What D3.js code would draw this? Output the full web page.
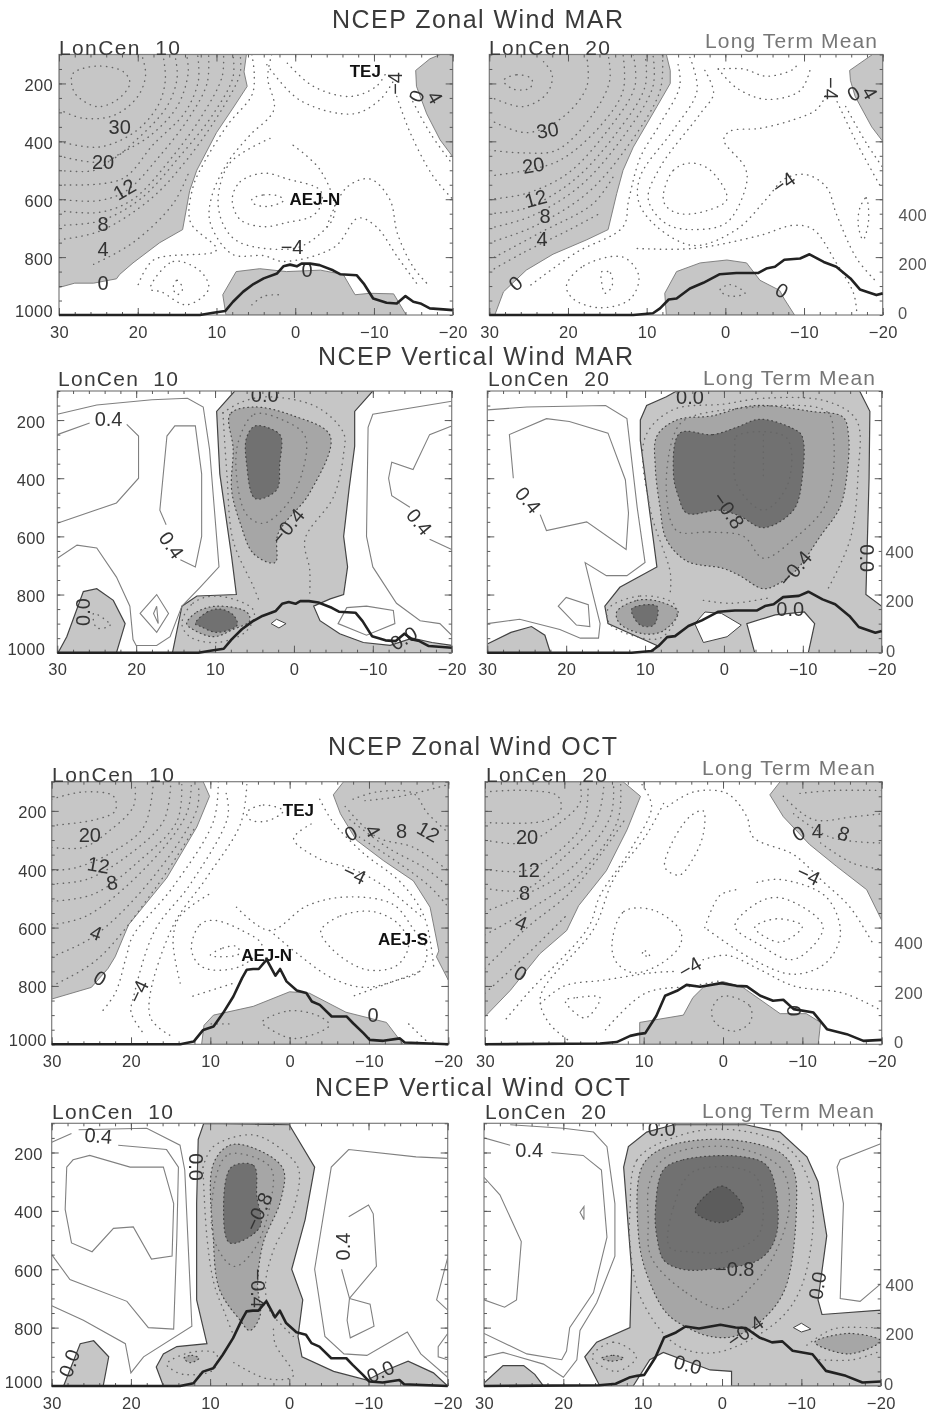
<!DOCTYPE html>
<html>
<head>
<meta charset="utf-8">
<script src="https://cdn.jsdelivr.net/npm/d3@7"></script>
<style>
  html, body { margin: 0; padding: 0; background: #fff; }
  svg { display: block; filter: blur(0.45px); }
  text { font-family: "Liberation Sans", Arial, sans-serif; white-space: pre; }
</style>
</head>
<body>
<svg id="chart" width="929" height="1416"></svg>
<script>
// all contours are [latitude, pressure hPa], terrain is [latitude, height m]
const xTicks = [30, 20, 10, 0, -10, -20];
const xTickLabels = ["30", "20", "10", "0", "\u221210", "\u221220"];
const yTicks = [200, 400, 600, 800, 1000];
const heightTicks = [0, 200, 400];

const terrainMar10 = [[30,0],[12.1,0],[10.4,9],[8.9,16],[7.9,54],[6.6,95],[5.3,126],[4,149],[2.3,169],[1.5,198],[.66,205],[-.2,198],[-.8,209],[-1.9,209],[-3.1,203],[-4.8,182],[-5.7,166],[-7.8,162],[-8.7,128],[-9.9,67],[-11.6,50],[-12.9,47],[-14,77],[-15,54],[-15.9,47],[-17.1,27],[-18.8,23],[-20,20]];
const terrainMar20 = [[30,0],[11.7,0],[9.2,7],[8.3,27],[7.2,63],[6.2,67],[4.5,108],[2.8,131],[.7,166],[-1.4,171],[-4.2,171],[-5.2,189],[-6.3,196],[-7.5,225],[-9.5,230],[-10.7,247],[-12.5,216],[-14.1,196],[-15.9,149],[-17.1,104],[-19.2,81],[-20,88]];
const terrainOct10 = [[30,0],[13.8,0],[12.1,11],[10.9,58],[9.6,72],[8.4,126],[7.1,193],[6,267],[5.4,301],[4.6,304],[3.9,304],[2.9,342],[1.8,277],[1.2,304],[.4,254],[-.9,217],[-2.1,207],[-2.8,173],[-3.8,159],[-5.3,112],[-7.2,112],[-8,85],[-9.3,45],[-10.1,18],[-11.8,14],[-13.9,24],[-14.5,7],[-20,0]];
const terrainOct20 = [[30,0],[15.5,3],[13.4,9],[11.7,34],[10.7,41],[9.8,45],[8.4,115],[7.3,196],[5.8,216],[4.6,240],[2.9,232],[.2,247],[-1.7,236],[-3,234],[-4.7,196],[-6.3,176],[-7.6,180],[-8.9,142],[-11.4,128],[-13.1,61],[-15.6,41],[-17.7,14],[-20,18]];

// zonal wind MAR, lon 10
const zm10Light = [
  [[30,100],[6.2,100],[6.5,160],[6.1,210],[7.9,285],[10,370],[12.5,500],[13.4,570],[14.3,705],[17.2,750],[20.6,820],[22.3,860],[22.7,875],[25.6,890],[28,890],[30,905]],
  [[-18.4,100],[-20,100],[-20,453],[-18.4,395],[-16.7,305],[-15.4,210],[-15.3,155],[-17.1,115]],
  [[7.5,850],[4.5,840],[1.1,850],[-3.2,845],[-6.1,860],[-7.6,930],[-9.5,925],[-12.5,927],[-14.1,1000],[8.8,1000],[9.2,930]]
];
const zm10Dots = [
  [[28.4,200],[28.2,165],[25.2,140],[21.8,160],[21,200],[22.7,258],[25.2,280],[27.8,240],[28.4,200]],
  [[30,290],[27,320],[23,310],[20,245],[19,170],[19.5,100]],
  [[30,400],[25,420],[20.5,370],[17.5,280],[16.5,190],[16.8,100]],
  [[30,450],[24,470],[20,390],[16.3,280],[15,180],[15.3,100]],
  [[30,500],[25.5,500],[22.7,450],[18.4,380],[15,280],[13.6,165],[13.8,100]],
  [[30,550],[22,530],[18,410],[14,300],[12.3,190],[12.4,100]],
  [[30,600],[25,605],[21.4,570],[17.2,450],[13.4,315],[11.2,200],[11,100]],
  [[30,640],[24.8,645],[20.6,600],[15.5,450],[11.7,305],[9.3,178],[9.1,100]],
  [[30,690],[24.8,675],[19.7,600],[14.6,450],[10.4,305],[7.9,178],[7.9,100]],
  [[30,740],[24.8,710],[18.4,600],[13.8,465],[9.1,280],[7,165],[7,100]],
  [[25.6,825],[20.6,750],[15.5,615],[13.4,500]],
  [[5.5,600],[4,585],[2,590],[1.5,605],[3.6,625],[5.3,615],[5.5,600]],
  [[8,600],[7,540],[4,510],[1,530],[-3.2,570],[-3.2,625],[-2,660],[1,680],[4,695],[7,670],[8,600]],
  [[3.2,390],[8.3,475],[9.8,600],[9,695],[7,750],[.2,770],[-2.7,730],[-5,650],[-3.2,500],[.7,405]],
  [[5.5,100],[5.2,170],[5.5,240],[8.5,340],[11.5,470],[13,560],[13.3,680],[10,775],[18,810],[20,900]],
  [[3,100],[3.5,180],[2.7,290],[5.8,380],[8.5,470],[10.6,590],[10.8,680],[8,790],[4,795],[1.5,815],[-5,765],[-8,665],[-10.3,695],[-13,800],[-15.4,890]],
  [[-4,695],[-6.5,560],[-9.5,530],[-12,600],[-13,720],[-15,835],[-16.7,890]],
  [[15.5,905],[15,880],[14.3,910],[15,930],[15.5,905]],
  [[18.4,910],[15.5,815],[12,850],[11,910],[13.8,965],[17,920],[18.4,910]],
  [[5.5,965],[4,935],[2,930]],
  [[1,130],[-2.3,210],[-7,245],[-10.3,210],[-11.6,160]],
  [[3.6,135],[-.6,258],[-7.4,305],[-10.8,255],[-12.5,190]],
  [[-12.9,245],[-14.6,370],[-17.5,520],[-20,600]],
  [[-14.6,245],[-17.1,370],[-20,480]]
];
const zm10Labels = [["30",22.3,350,0],["20",24.4,470,0],["12",21.7,565,-30],["8",24.4,685,0],["4",24.4,773,0],["0",24.4,888,0],["\u22124",.4,765,0],["\u22124",-12.7,200,-90],["0",-15.4,244,-70],["4",-17.8,248,60],["0",-1.5,843,0]];
const zm10Bold = [["TEJ",-8.9,155],["AEJ-N",-2.5,600]];

// zonal wind MAR, lon 20
const zm20Light = [
  [[30,100],[7.5,100],[7,155],[7,200],[8.7,280],[11.7,420],[13,500],[13.8,580],[14.9,705],[17.6,740],[21.9,790],[25.3,845],[28.2,920],[29.3,1000],[30,1000]],
  [[-15.8,155],[-18.7,100],[-20,100],[-20,400],[-18.6,350],[-16.5,245],[-15.9,190]],
  [[7.5,1000],[7.7,925],[6.2,850],[3.2,820],[-.2,810],[-2.7,820],[-4.4,880],[-6.9,915],[-7.5,945],[-8.8,1000]]
];
const zm20Dots = [
  [[28.2,190],[26.5,170],[24.6,185],[24.8,215],[26.9,220],[28.2,190]],
  [[30,245],[25.7,280],[22.7,235],[22,170],[23.1,125]],
  [[30,325],[25.2,370],[20.6,315],[17.6,210],[17.6,110]],
  [[30,430],[25.7,440],[21.4,430],[16.8,305],[14.7,190],[14.9,100]],
  [[30,520],[25.3,500],[21,465],[16,350],[13,225],[13,100]],
  [[30,600],[25.3,580],[20,510],[14.9,360],[11.5,210],[11.7,100]],
  [[30,650],[25.3,630],[19.3,535],[13.8,370],[10.2,210],[10.2,100]],
  [[30,700],[24.8,660],[18.5,555],[13,385],[9.2,210],[9.2,100]],
  [[30,750],[24.4,695],[17.6,580],[12.5,420],[8.3,225],[8,100]],
  [[30,810],[23.5,715],[16.8,615],[14.2,520]],
  [[30,850],[25.7,785],[19.8,705],[16,650]],
  [[6,135],[5.8,210],[8.3,340],[10.8,455],[12.3,605],[13,695],[19,785],[24.9,900]],
  [[7.9,590],[6.6,500],[4.4,475],[1.9,500],[-.2,600],[2.4,640],[5.8,650],[7.5,625],[7.9,590]],
  [[2.6,155],[1.5,235],[3.2,305],[8.3,490],[9.8,600],[7.5,685],[4,705],[-.2,680],[-2.7,545],[-2.5,490],[.2,395],[-.6,365],[-4.4,355],[-8.7,325],[-11.6,290],[-12.9,235]],
  [[4.5,110],[3.6,225],[6.6,360],[10.8,520],[11,610],[8.7,695],[4,760],[-1.4,705],[-5.2,600],[-7.5,530],[-10.3,515],[-12.9,560],[-14.1,650],[-16.7,805],[-19.2,885]],
  [[11.2,770],[4,770],[-4.4,725],[-8.7,690],[-11.2,705],[-14.1,820],[-16.3,925],[-16.7,990]],
  [[-17.1,630],[-17.9,595],[-18.2,675],[-17.5,740],[-16.9,690],[-17.1,630]],
  [[.9,150],[-2.3,150],[-5.2,175],[-8.7,150],[-9.2,130]],
  [[.9,150],[-1.4,215],[-5.2,255],[-9.5,225],[-10.8,150]],
  [[-13.9,245],[-16.7,405],[-19.7,555]],
  [[-15.3,280],[-17.9,405],[-20,490]],
  [[15.7,850],[14.6,855],[14.4,900],[15.3,925],[15.7,890],[15.7,850]],
  [[20.2,900],[18,830],[13,800],[11,865],[12.1,945],[15.9,975],[19.3,945],[20.2,900]],
  [[.7,915],[-.6,895],[-2.5,925],[-.6,935],[.7,915]]
];
const zm20Labels = [["30",22.6,361,-10],["20",24.4,482,-10],["12",24.1,597,-15],["8",22.9,658,0],["4",23.3,738,0],["0",26.7,890,-40],["\u22124",-7.4,543,-35],["\u22124",-13.5,217,90],["0",-16.3,235,-30],["4",-18.4,232,60],["0",-7.2,915,30]];

// vertical wind MAR, lon 10
const vm10Light = [
  [[7.5,100],[-10,100],[-7.7,170],[-7.7,290],[-7,435],[-6.3,600],[-6.8,705],[-6.3,800],[-4.6,815],[-2.5,840],[-3.3,890],[-5.8,935],[-8.8,965],[-12.2,975],[-15,950],[-17.5,965],[-20,975],[-20,1000],[15.4,1000],[14.2,840],[12.3,805],[7.3,800],[7.9,670],[9.4,385],[9.8,170]],
  [[29.9,1000],[28.8,945],[26.7,790],[25,780],[22.9,820],[21.4,900],[22.5,1000]]
];
const vm10Mid = [
  [[5.2,155],[8.1,180],[7.7,300],[7.9,440],[6.8,555],[5.1,660],[2.4,690],[2,590],[-2,450],[-4.6,255],[.1,185]],
  [[13.6,900],[12.3,860],[9.8,840],[6,860],[5.6,890],[7.7,920],[10.2,945],[12.8,920]]
];
const vm10Dark = [
  [[4.9,220],[2.2,240],[1.6,260],[1.8,350],[2.2,440],[4.9,470],[6,350],[6,260]],
  [[12.5,900],[11,860],[9.4,850],[7.7,870],[7.2,905],[9.8,930],[11.8,910]]
];
const vm10Holes = [[[2.9,900],[2.2,885],[1,900],[1.9,915]]];
const vm10Dots = [
  [[9,175],[6.8,140],[3.5,120],[-2.9,155],[-6.3,245],[-6.3,315],[-5,465],[-1.4,610],[-2,715],[-2,800]],
  [[9,175],[8.5,385],[7.7,615],[5.1,775],[4.3,830]],
  [[7,270],[5,180],[1.4,200],[-1.4,255],[-1,385],[.9,490],[3.9,555],[6,525],[7.3,385],[7,270]],
  [[14.2,900],[12.8,830],[9.8,805],[5.1,855],[6,925],[9.8,965],[13.2,945],[14.2,900]],
  [[25.4,865],[23.3,905],[25,915],[25.4,865]]
];
const vm10Solid = [
  [[30,180],[25,148],[18,130],[13.5,125],[11.5,155],[10.7,300],[9.5,705],[11.9,775],[14.2,840]],
  [[30,250],[25.9,210]],
  [[21.2,215],[19.7,255],[19.7,400],[22.5,485],[30,555]],
  [[14.4,680],[12.5,705],[11.7,600],[11.7,385],[12.5,220],[15.1,220],[16.1,255],[17,510],[16.2,560]],
  [[30,675],[27.5,630],[25,640],[22.5,740],[20.8,840],[20.4,955],[20,975],[17.4,975],[15.7,945],[14.2,840]],
  [[19.5,865],[17.4,800],[15.9,865],[17.4,930],[19.5,865]],
  [[17.8,865],[17.4,840],[17.2,900],[17.8,865]],
  [[-20,135],[-10,180],[-9.4,225],[-9.2,600],[-10,705],[-13,830],[-16,890],[-18.5,900],[-20,940]],
  [[-20,220],[-17.2,250],[-15.1,370],[-12.4,345],[-12,400],[-12.4,460],[-14.7,500]],
  [[-17.2,610],[-20,645]],
  [[-5.6,900],[-6.7,845],[-9.2,840],[-12.6,855],[-12.8,900],[-9.2,940],[-5.6,900]]
];
const vm10Labels = [["0.4",23.5,195,0],["0.4",15.5,630,55],["\u22120.4",.8,565,-50],["0.4",-15.9,550,50],["0.0",26.8,860,-90],["0.0",3.7,113,0],["0.0",-13.9,950,-30]];

// vertical wind MAR, lon 20
const vm20Light = [
  [[10.6,200],[9.8,150],[7.3,120],[6,100],[-17.2,100],[-18.5,170],[-18.4,400],[-18,800],[-20,840],[-20,1000],[-10.7,1000],[-11.5,900],[-10.2,860],[-6.5,870],[-2.9,900],[-3.9,1000],[9.1,1000],[8.5,975],[14.7,900],[15.1,840],[13.2,775],[8.5,705],[10.6,270]],
  [[30,970],[27,930],[24.4,910],[22.7,940],[22,1000],[30,1000]]
];
const vm20Mid = [
  [[8.5,255],[6,200],[1.4,185],[-2.5,155],[-5.4,150],[-11,170],[-15.1,190],[-15.8,255],[-15.6,385],[-14.7,500],[-12.2,600],[-9.2,715],[-7.1,760],[-5,780],[-2,735],[.1,710],[4.7,685],[7.3,610],[8.1,500],[8.7,360]],
  [[13.6,860],[11,820],[8.1,825],[5.8,860],[7.7,925],[10.2,935],[13.2,900]]
];
const vm20Dark = [
  [[5.6,245],[1.4,250],[-1.6,225],[-4.6,197],[-8.8,230],[-9.9,255],[-9.9,405],[-8.8,510],[-5,570],[-2,530],[.5,510],[4.7,520],[5.8,460],[6.4,385]],
  [[11.7,850],[8.5,840],[8.9,905],[10.6,905]]
];
const vm20Holes = [[[3.7,900],[2.4,860],[.3,865],[-2.2,905],[-.4,945],[2.6,965]]];
const vm20Dots = [
  [[-1.4,300],[-1.6,255],[-7.9,260],[-8.1,420],[-5,510],[-1.6,420],[-1.4,300]],
  [[-5,250],[-5,395]],
  [[6.8,790],[6.8,725],[9.4,500],[10,260],[6.5,165],[0,145],[-5,125],[-13,135],[-16.8,200],[-17,385],[-16,610],[-13,790]],
  [[6,580],[1.8,585],[-2.5,600],[-5,675],[-8.8,610],[-13,485],[-13.9,255],[-13,170],[-2,160],[5,200],[6.4,255],[7.3,445],[6,580]],
  [[14.7,850],[10.6,805],[6.4,830],[6,875],[8.1,950],[12.3,935],[14.5,900],[14.7,850]],
  [[2.6,820],[-1,830],[-6,810]]
];
const vm20Solid = [
  [[30,165],[25,155],[15,150],[12.3,195],[11,500],[10,690],[12.3,735],[14.9,735],[17.6,690],[16.7,790],[15.7,900],[15.9,950],[18.2,950],[20.8,920],[25.9,885],[30,900]],
  [[23.3,525],[22.5,580],[17.4,550],[12.4,645],[12.1,520],[12.5,405],[14.7,245],[19.6,205],[22.5,195],[27.2,250],[26.7,400]],
  [[21,840],[20,810],[17.2,835],[17,910],[18.7,905],[21,840]]
];
const vm20Labels = [["0.4",24.8,475,50],["\u22120.8",-.6,510,55],["\u22120.4",-9,710,-50],["0.0",4.3,120,0],["0.0",-18.1,675,90],["0.0",-8.4,850,0]];

// zonal wind OCT, lon 10
const zo10Light = [
  [[30,100],[10.9,100],[10.1,150],[11.7,255],[15.5,430],[20.3,590],[21,635],[22,700],[22.9,740],[25,805],[30,845]],
  [[-6.8,100],[-5.5,145],[-6.4,210],[-8.4,300],[-11.8,370],[-15.6,440],[-17.7,530],[-18.8,680],[-18.5,700],[-20,780],[-20,100]],
  [[10.8,935],[9.6,900],[4.6,870],[0,820],[-2.5,825],[-7.1,890],[-12.2,925],[-14.3,1000],[11.1,1000]]
];
const zo10Dots = [
  [[30,160],[26,135],[22.2,150],[22,200],[24.5,230],[30,250]],
  [[30,325],[26,325],[22.8,270],[19.7,185],[19.5,110]],
  [[30,405],[27,395],[22.6,345],[18.4,255],[17.2,110]],
  [[30,450],[25.6,435],[20.5,355],[15.9,235],[15,110]],
  [[30,510],[24.7,485],[18.9,370],[14.2,235],[13.6,110]],
  [[30,590],[25.6,560],[18,390],[13,210],[12.4,110]],
  [[30,700],[24.7,630],[17.6,440],[11.7,195],[11.5,110]],
  [[30,800],[24.3,710],[16.8,460],[12,260]],
  [[9,100],[9.6,235],[14.7,460],[19.8,630],[20.6,700],[22,825],[23.9,895]],
  [[8,140],[7.8,220],[12.5,450],[17,610],[19.7,840],[20,890],[18.5,960]],
  [[5.4,110],[6.2,245],[10.5,430],[14.9,605],[17.6,905],[14.7,975]],
  [[10,695],[8.4,670],[6.6,665],[6.4,690],[8.8,700],[10,695]],
  [[12.4,670],[11.3,590],[9.6,575],[6,610],[3.5,660],[6,730],[9.8,745],[11.5,725],[12.4,670]],
  [[13.8,790],[14.7,640],[13.8,560],[9.8,480]],
  [[6.7,530],[2.5,610],[-2.2,525],[-7.2,495],[-13,520],[-15.6,605],[-17.3,680],[-16.4,750],[-13,785],[-8,835]],
  [[2.5,610],[-1,690],[-5.5,775],[-9.8,805],[-16.4,750]],
  [[-4,605],[-6.4,560],[-10.5,545],[-13.8,590],[-15,660],[-13.5,730],[-9.8,745],[-6,690],[-4,625],[-4,605]],
  [[12.2,835],[7,790]],
  [[3.5,925],[0,885],[-3.8,905],[-5,935],[-.5,980],[2.9,940],[3.5,925]],
  [[9.9,930],[7.5,930]],
  [[5.4,205],[3.3,180],[.8,200],[2.9,235],[5,230],[5.4,205]],
  [[-2.7,245],[-.5,295],[-3.8,365],[-8,400],[-12,460],[-16.5,560]],
  [[-3.8,160],[-5.5,240],[-9.3,345],[-14,445],[-17,565],[-18.2,745]],
  [[-15,930],[-17.7,1000]],
  [[-8,160],[-11,135],[-15.6,140],[-17.3,205],[-20,275]],
  [[-7,185],[-11,290],[-15.6,325],[-20,405]],
  [[-8.8,290],[-13.8,380],[-17.7,460],[-20,530]],
  [[-7.6,230],[-12.3,325],[-17.3,400],[-20,460]],
  [[-9.5,165],[-14,150],[-20,110]]
];
const zo10Labels = [["20",25.2,282,0],["12",24.1,385,10],["8",22.4,445,-10],["4",24.4,617,20],["0",23.9,773,30],["\u22124",19.1,819,-65],["0",-7.7,277,-30],["4",-10.5,268,60],["8",-14.1,268,0],["12",-17.5,271,30],["\u22124",-8.2,416,25],["0",-10.5,900,0]];
const zo10Bold = [["TEJ",-1.1,195],["AEJ-N",2.9,695],["AEJ-S",-14.3,640]];

// zonal wind OCT, lon 20
const zo20Light = [
  [[30,100],[12.6,100],[10.4,150],[12.1,265],[14.7,405],[18.2,525],[19.7,610],[23.1,690],[26.8,815],[30,905]],
  [[-7.2,100],[-5.9,145],[-7.6,220],[-10.9,315],[-14.3,390],[-18.1,470],[-20,575],[-20,100]],
  [[10.5,925],[5,900],[3.8,840],[2.5,805],[0,785],[-2.5,805],[-7.2,895],[-10.5,895],[-12.3,925],[-12,1000],[10.5,1000]]
];
const zo20Dots = [
  [[30,135],[24.7,130],[20.8,150],[20.5,200],[22.6,235],[30,240]],
  [[30,300],[25,310],[21,250],[18,170],[18,110]],
  [[30,400],[25,405],[21,345],[17.6,240],[17,110]],
  [[30,465],[25,470],[20.5,370],[16,235],[15,110]],
  [[30,545],[24.7,485],[18.9,390],[14.2,220],[13.8,110]],
  [[30,625],[23.9,530],[18,415],[13.3,235],[12.9,110]],
  [[30,740],[24.7,600],[18.9,470],[12.5,235]],
  [[30,825],[25,700],[19.8,560]],
  [[10.2,110],[9,185],[11.7,335],[15.5,490],[17,600],[24.6,825],[27.7,925]],
  [[7.5,175],[9.6,280],[13.8,435],[16.3,605],[23,835],[22,925],[19.3,990]],
  [[4.2,220],[2.5,200],[2.5,280],[3.8,365],[5.5,420],[7.3,395],[6.7,325],[4.2,220]],
  [[7,185],[3.7,135],[-.5,140],[-3,220],[-3.8,290],[-8.9,350],[-12.5,440],[-16,530],[-19,660]],
  [[10.2,690],[9.8,680],[9.2,700],[10.2,690]],
  [[14,660],[12.5,545],[8.8,540],[5.4,610],[5.4,660],[7.9,725],[11.3,755],[13.4,720],[14,660]],
  [[-4,600],[-6.7,570],[-10,595],[-7.2,650],[-4,600]],
  [[-1.5,595],[-4.7,510],[-7.6,500],[-12.6,595],[-10.5,685],[-8.4,710],[-4.7,660],[-1.5,595]],
  [[2.3,600],[.4,490],[-1.7,470]],
  [[-4.3,445],[-7.2,435],[-13,495],[-14.8,620],[-13,720],[-8.9,760],[-3.8,710],[2.3,600]],
  [[2.5,710],[-.5,695],[-4.7,745],[-8.9,800],[-15.2,825],[-20,885]],
  [[23,860],[20,800],[15,780],[9,755],[6,750]],
  [[19.9,850],[18.4,840],[15.5,840],[17.4,910],[19.9,850]],
  [[14.8,950],[9.8,825],[3.8,800],[0,780]],
  [[0,835],[-3.4,870],[-3.4,925],[-1.3,955],[1,925],[1.4,880],[0,835]],
  [[-9.7,140],[-14,130],[-20,130]],
  [[-7.6,150],[-11.4,230],[-16.4,220],[-20,210]],
  [[-8.9,210],[-13.5,290],[-20,310]],
  [[-12.3,310],[-16.4,380],[-20,400]]
];
const zo20Labels = [["20",24.7,290,0],["12",24.5,402,0],["8",25,480,0],["4",25.4,583,20],["0",25.5,756,30],["\u22124",4.2,736,-30],["0",-9.5,277,-30],["4",-11.9,268,0],["8",-15.2,277,20],["\u22124",-10.8,419,25],["0",-9,885,90]];

// vertical wind OCT, lon 10
const vo10Light = [
  [[10.8,100],[0,105],[-3.2,250],[-2,430],[-.3,600],[-1.7,705],[-1.1,830],[-1.6,900],[-5.6,950],[-9.8,980],[-12.3,945],[-15,915],[-18.2,955],[-20,1000],[15.9,1000],[16.8,935],[15.9,890],[14.2,865],[10.4,855],[11.7,705],[11.7,375],[11.5,155]],
  [[28.5,1000],[26.4,855],[24.7,845],[22.8,900],[23.5,1000]]
];
const vo10Mid = [
  [[9.6,240],[7.5,175],[4.5,185],[.8,255],[1.1,365],[3.3,510],[4,650],[3.7,760],[5,810],[6.2,775],[8.8,670],[9.6,490]],
  [[13.3,905],[12.3,895],[11.4,905],[12.5,920]]
];
const vo10Dark = [[[7.3,250],[4.5,245],[4.1,350],[3.7,455],[7.5,510],[8.3,395]]];
const vo10Dots = [
  [[10.9,250],[9.6,180],[4.5,140],[.3,205],[-1.2,260],[-.5,395],[2,535],[3,650],[2.5,740],[1,790],[-.5,830]],
  [[10.9,250],[10.4,490],[9.5,650],[8,760],[7,830]],
  [[9,260],[7.5,205],[2.4,250],[2.4,375],[4.5,535],[7,590],[9.6,490],[9,260]],
  [[15.5,925],[12.5,885],[9.2,890],[9.6,945],[13.4,960],[15,940],[15.5,925]],
  [[7,920],[2.8,975],[-.5,965],[1.8,855],[2,800]]
];
const vo10Solid = [
  [[26.6,122],[18,117],[13.8,175],[13.2,260],[12.3,795],[18.4,900],[20,955],[20.7,855],[26,775],[30,725]],
  [[30,165],[27.5,135]],
  [[21.6,175],[15.5,190],[14,250],[14.2,490],[14.6,805],[17.8,800],[20.5,710],[27.7,635],[30,550]],
  [[28.1,250],[27.3,225],[25.2,210],[20.1,250],[15.9,250],[14.6,375],[14.8,555],[17.4,565],[19.7,455],[22.2,460],[24.9,540],[27.5,510],[28.3,395],[28.1,250]],
  [[-20,220],[-16,215],[-7.5,190],[-5.3,250],[-3.2,600],[-4.5,830],[-6.9,890],[-9.8,895],[-14.9,815],[-16.6,890],[-20,970]],
  [[-7.5,420],[-10,380],[-10.6,410],[-11,590],[-7.6,700],[-6.6,600]],
  [[-7.6,700],[-10.2,720],[-10.7,795],[-7.7,835],[-7.3,775],[-7.6,700]],
  [[-20,560],[-18.6,705],[-20,740]],
  [[-20,820],[-18.8,865],[-18.8,900],[-20,910]]
];
const vo10Labels = [["0.4",24.1,142,5],["0.0",11.7,250,90],["\u22120.8",3.9,402,-65],["\u22120.4",3.9,665,90],["0.4",-6.8,522,-90],["0.0",27.8,922,-70],["0.0",-11.5,950,-25]];

// vertical wind OCT, lon 20
const vo20Light = [
  [[12.4,250],[11.8,180],[9.5,130],[6.1,105],[-3,105],[-7.3,130],[-10.7,215],[-12.1,300],[-13.2,485],[-12.1,705],[-12.6,755],[-20,740],[-20,1000],[-1.2,1000],[-1.2,950],[1.5,945],[7.4,885],[9.1,910],[11.2,1000],[15.4,1000],[17.3,900],[15.8,850],[11.6,800],[11.4,600]],
  [[30,990],[27.6,930],[25,930],[23.6,960],[22.5,1000],[30,1000]]
];
const vo20Mid = [
  [[10.1,250],[7.4,185],[-.2,155],[-7.3,200],[-9,260],[-9.4,375],[-7.9,670],[-4.8,780],[-1.5,830],[1.5,830],[4,805],[7,750],[9.5,615],[10.5,490]],
  [[-11.7,850],[-16,820],[-20,845],[-16,890]],
  [[15.2,905],[13.7,895],[12.4,905],[13.9,915]]
];
const vo20Dark = [[[7.4,260],[4.9,225],[-2.7,215],[-5.8,250],[-6.9,475],[-4.8,565],[1.5,600],[5,600],[7.3,570],[8.2,490],[8.4,400]]];
const vo20Darkest = [[[3.4,400],[0,315],[-2.7,395],[.2,440]]];
const vo20Holes = [[[-9,800],[-10,785],[-11.2,805],[-10,815]]];
const vo20Dots = [
  [[6.6,525],[6.1,385],[3.6,265],[-4,275],[-5.2,405],[-4.4,490],[-.6,540],[4,540],[6.6,525]],
  [[11.6,400],[10.7,225],[5.7,145],[-.2,120],[-7.3,165],[-10.2,250],[-11.5,395],[-10,660],[-6.9,780],[.7,885],[5.7,860],[10.3,695],[11.6,510],[11.6,400]],
  [[8.9,560],[4.5,680],[-.2,735],[-3.5,665],[-6.6,550],[-8.5,375],[-7.3,250],[-.6,180],[7,215],[9.1,300],[9.3,430],[8.9,560]],
  [[-10.7,860],[-14,805],[-18.6,800],[-20,800]],
  [[-12.3,910],[-16.5,910],[-20,880]],
  [[16.4,900],[13.7,850],[10.8,900],[13.3,950],[16.4,900]]
];
const vo20Solid = [
  [[30,150],[26.7,175]],
  [[21.5,200],[17.5,210],[15.2,260],[14.5,490],[16.2,680],[19.2,800],[19.6,880],[20.2,910],[24.6,890],[30,820]],
  [[26.7,105],[20,117],[16.2,130],[14.5,180],[13.5,375],[13.5,555],[15.8,715],[17.9,810],[18.3,910],[20,970],[22.5,925],[27.6,885],[30,900]],
  [[30,285],[28,345],[25.3,505],[25.9,705],[27.4,730],[30,705]],
  [[17.9,405],[17.4,385],[17.4,430],[17.9,405]],
  [[-20,170],[-14.9,225],[-14.5,250],[-15.3,375],[-14.9,700],[-17.4,710],[-20,650]]
];
const vo20Labels = [["0.4",24.3,190,0],["0.0",7.6,120,0],["\u22120.8",-1.6,600,0],["\u22120.4",-2.9,813,-35],["0.0",4.3,926,15],["0.0",-12,656,-80]];

const titles = [
  ["NCEP Zonal Wind MAR", 332, 623, 28],
  ["NCEP Vertical Wind MAR", 318, 633, 365],
  ["NCEP Zonal Wind OCT", 328, 617, 755],
  ["NCEP Vertical Wind OCT", 315, 630, 1096]
];

// frame and text placement for each panel
const panels = [
  {box: [59, 452.7, 54.5, 315], lon: "LonCen  10", lonAt: [59, 180, 55], yPad: 6, terrain: terrainMar10, light: zm10Light, dots: zm10Dots, labels: zm10Labels, bold: zm10Bold},
  {box: [489.3, 882.7, 54.5, 315], lon: "LonCen  20", lonAt: [489, 610, 55], ltm: [705, 877, 48], hx: [30, 20], terrain: terrainMar20, light: zm20Light, dots: zm20Dots, labels: zm20Labels},
  {box: [57.3, 451.7, 391, 652.7], lon: "LonCen  10", lonAt: [58, 178, 386], yPad: 12, heavy: true, terrain: terrainMar10, light: vm10Light, mid: vm10Mid, dark: vm10Dark, holes: vm10Holes, dots: vm10Dots, solid: vm10Solid, labels: vm10Labels},
  {box: [487.3, 881.7, 391, 652.7], lon: "LonCen  20", lonAt: [488, 609, 386], ltm: [703, 875, 385], hx: [18, 9], heavy: true, terrain: terrainMar20, light: vm20Light, mid: vm20Mid, dark: vm20Dark, holes: vm20Holes, dots: vm20Dots, solid: vm20Solid, labels: vm20Labels},
  {box: [51.7, 448.3, 781.7, 1044.3], lon: "LonCen  10", lonAt: [52, 174, 782], yPad: 5, terrain: terrainOct10, light: zo10Light, dots: zo10Dots, labels: zo10Labels, bold: zo10Bold},
  {box: [485, 881.7, 781.7, 1044.3], lon: "LonCen  20", lonAt: [486, 607, 782], ltm: [702, 875, 775], hx: [27, 17], terrain: terrainOct20, light: zo20Light, dots: zo20Dots, labels: zo20Labels},
  {box: [51.7, 447.7, 1123.3, 1386], lon: "LonCen  10", lonAt: [52, 173, 1119], yPad: 9, heavy: true, terrain: terrainOct10, light: vo10Light, mid: vo10Mid, dark: vo10Dark, dots: vo10Dots, solid: vo10Solid, labels: vo10Labels},
  {box: [484, 880.7, 1123.3, 1386], lon: "LonCen  20", lonAt: [485, 606, 1119], ltm: [702, 874, 1118], hx: [19, 8], heavy: true, terrain: terrainOct20, light: vo20Light, mid: vo20Mid, dark: vo20Dark, darkest: vo20Darkest, holes: vo20Holes, dots: vo20Dots, solid: vo20Solid, labels: vo20Labels}
];

const svg = d3.select("#chart");

svg.selectAll("text.title").data(titles).enter().append("text")
  .attr("class", "title")
  .attr("x", d => d[1]).attr("y", d => d[3])
  .attr("textLength", d => d[2] - d[1]).attr("lengthAdjust", "spacing")
  .style("font-size", "25px").style("fill", "#3a3a3a")
  .text(d => d[0]);

panels.forEach((p, i) => drawPanel(p, i));

function drawPanel(p, i) {
  const [x0, x1, y0, y1] = p.box;
  const x = d3.scaleLinear().domain([30, -20]).range([x0, x1]);
  const y = d3.scaleLinear().domain([100, 1000]).range([y0, y1]);
  const h = d3.scaleLinear().domain([0, 1060]).range([y1, y0]);

  const g = svg.append("g");
  g.append("clipPath").attr("id", "clip" + i).append("rect")
    .attr("x", x0).attr("y", y0).attr("width", x1 - x0).attr("height", y1 - y0);
  const plot = g.append("g").attr("clip-path", "url(#clip" + i + ")");

  const polyLine = d3.line().x(d => x(d[0])).y(d => y(d[1]));
  const blob = d3.line().x(d => x(d[0])).y(d => y(d[1])).curve(d3.curveCatmullRomClosed.alpha(0.5));
  const openCurve = d3.line().x(d => x(d[0])).y(d => y(d[1])).curve(d3.curveCatmullRom.alpha(0.5));
  const solidLine = d => {
    const s = d[0], e = d[d.length - 1];
    return s[0] === e[0] && s[1] === e[1] ? polyLine(d.slice(0, -1)) + "Z" : polyLine(d);
  };
  const dotLine = d => {
    const s = d[0], e = d[d.length - 1];
    return s[0] === e[0] && s[1] === e[1] ? blob(d.slice(0, -1)) : openCurve(d);
  };
  const terrainLine = d3.line().x(d => x(d[0])).y(d => h(d[1]));

  plot.selectAll("path.light").data(p.light).enter().append("path")
    .attr("d", d => polyLine(d) + "Z")
    .style("fill", "#c6c6c6")
    .style("stroke", p.heavy ? "#444" : "#777")
    .style("stroke-width", p.heavy ? 1.2 : 0.9);

  const levels = [[p.mid, "#a6a6a6"], [p.dark, "#717171"], [p.darkest, "#5c5c5c"]];
  levels.forEach(([rings, colour]) => {
    plot.selectAll(null).data(rings || []).enter().append("path")
      .attr("d", d => blob(d))
      .style("fill", colour)
      .style("stroke", "#444").style("stroke-width", 1.2)
      .style("stroke-linecap", "round").style("stroke-dasharray", "0.8 3.6");
  });

  plot.selectAll(null).data(p.holes || []).enter().append("path")
    .attr("d", d => polyLine(d) + "Z")
    .style("fill", "#fff").style("stroke", "#444").style("stroke-width", 1);

  plot.selectAll(null).data(p.dots).enter().append("path")
    .attr("d", dotLine)
    .style("fill", "none").style("stroke", "#666").style("stroke-width", 1.4)
    .style("stroke-linecap", "round").style("stroke-dasharray", "0.4 5.4");

  plot.selectAll(null).data(p.solid || []).enter().append("path")
    .attr("d", solidLine)
    .style("fill", "none").style("stroke", "#808080").style("stroke-width", 1.1);

  // contour labels sit on the panel and are cut by its frame
  plot.selectAll("text.clabel").data(p.labels).enter().append("text")
    .attr("class", "clabel")
    .attr("transform", d => `translate(${x(d[1])},${y(d[2])}) rotate(${d[3]})`)
    .attr("text-anchor", "middle").attr("dy", "0.36em")
    .style("font-size", "20px").style("fill", "#333")
    .text(d => d[0]);

  plot.selectAll("text.jet").data(p.bold || []).enter().append("text")
    .attr("class", "jet")
    .attr("x", d => x(d[1])).attr("y", d => y(d[2]))
    .attr("text-anchor", "middle").attr("dy", "0.36em")
    .style("font-size", "17px").style("font-weight", "bold").style("fill", "#111")
    .text(d => d[0]);

  // frame, mirrored ticks, then the labels
  g.append("rect")
    .attr("x", x0).attr("y", y0).attr("width", x1 - x0).attr("height", y1 - y0)
    .style("fill", "none").style("stroke", "#7d7d7d").style("stroke-width", 1.2);

  const minorX = d3.range(-20, 31, 2);
  const minorY = d3.range(100, 1001, 50);
  const tickAxis = (axis, scale, at, size, translate) => {
    const a = g.append("g").attr("transform", translate)
      .call(axis(scale).tickValues(at).tickSize(size).tickSizeOuter(0).tickFormat(""));
    a.select(".domain").remove();
    a.selectAll("line").style("stroke", "#5a5a5a");
  };
  [[3, minorX, minorY], [7, xTicks, yTicks.slice(0, 4)]].forEach(([len, tx, ty]) => {
    tickAxis(d3.axisBottom, x, tx, -len, `translate(0,${y1})`);
    tickAxis(d3.axisTop, x, tx, -len, `translate(0,${y0})`);
    tickAxis(d3.axisLeft, y, ty, -len, `translate(${x0},0)`);
    tickAxis(d3.axisRight, y, ty, -len, `translate(${x1},0)`);
  });

  // terrain stays unclipped so its flat stretch keeps full weight along the frame
  g.append("path").datum(p.terrain)
    .attr("d", terrainLine)
    .style("fill", "none").style("stroke", "#222").style("stroke-width", 2.6)
    .style("stroke-linejoin", "round");

  const xAxis = g.append("g").attr("transform", `translate(0,${y1})`)
    .call(d3.axisBottom(x).tickValues(xTicks).tickSize(0).tickPadding(11)
      .tickFormat((d, k) => xTickLabels[k]));
  xAxis.select(".domain").remove();
  xAxis.selectAll("text").style("font-size", "16.5px").style("fill", "#3a3a3a")
    .style("font-family", "Liberation Sans").style("letter-spacing", "0.3px");

  if (p.yPad) {
    const yAxis = g.append("g").attr("transform", `translate(${x0},0)`)
      .call(d3.axisLeft(y).tickValues(yTicks).tickSize(0).tickPadding(p.yPad).tickFormat(d3.format("d")));
    yAxis.select(".domain").remove();
    yAxis.selectAll("text")
      .attr("dy", d => d === 1000 ? "0.1em" : "0.42em")
      .style("font-size", "16.5px").style("fill", "#3a3a3a")
      .style("font-family", "Liberation Sans").style("letter-spacing", "0.3px");
  }

  if (p.hx) {
    g.selectAll("text.height").data(heightTicks).enter().append("text")
      .attr("class", "height")
      .attr("x", d => x1 + (d === 0 ? p.hx[1] : p.hx[0]))
      .attr("y", d => h(d) - 2).attr("dy", "0.36em")
      .attr("text-anchor", "middle")
      .style("font-size", "16.5px").style("fill", "#555").style("letter-spacing", "0.3px")
      .text(d => d);
    g.append("text")
      .attr("x", p.ltm[0]).attr("y", p.ltm[2])
      .attr("textLength", p.ltm[1] - p.ltm[0]).attr("lengthAdjust", "spacing")
      .style("font-size", "21px").style("fill", "#777")
      .text("Long Term Mean");
  }

  g.append("text")
    .attr("x", p.lonAt[0]).attr("y", p.lonAt[2])
    .attr("textLength", p.lonAt[1] - p.lonAt[0]).attr("lengthAdjust", "spacing")
    .style("font-size", "21px").style("fill", "#3a3a3a")
    .text(p.lon);
}
</script>
</body>
</html>
